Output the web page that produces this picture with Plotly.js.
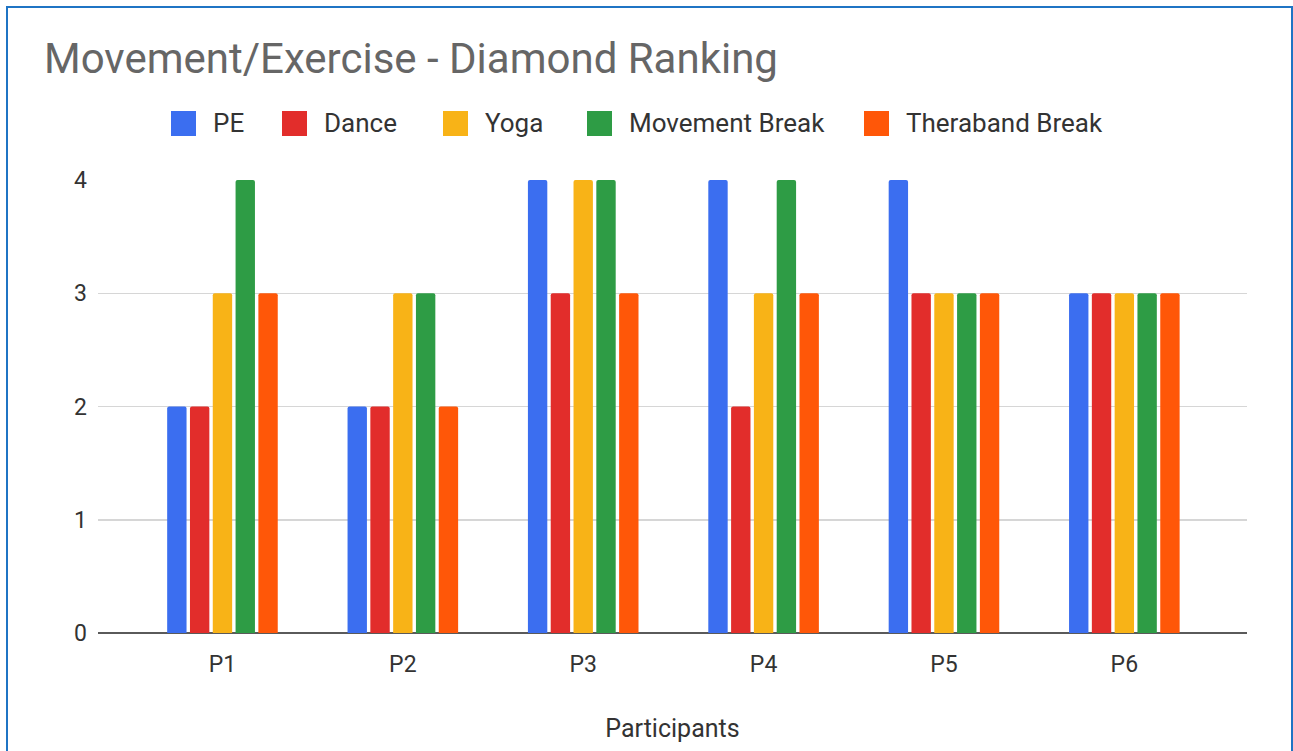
<!DOCTYPE html>
<html>
<head>
<meta charset="utf-8">
<script src="https://cdn.plot.ly/plotly-3.0.1.min.js"></script>
<style>
  html, body { margin: 0; padding: 0; background: #ffffff; }
  #chart { width: 1293px; height: 751px; }
  #frame { position: absolute; left: 6px; top: 6px; width: 1287px; height: 770px;
           border: 2px solid #1f74c4; pointer-events: none; box-sizing: border-box; }
</style>
</head>
<body>
<div id="chart"></div>
<div id="frame"></div>
<script>
const participants = ["P1", "P2", "P3", "P4", "P5", "P6"];
const seriesNames = ["PE", "Dance", "Yoga", "Movement Break", "Theraband Break"];
const pe = [2, 2, 4, 4, 4, 3];
const dance = [2, 2, 3, 2, 3, 3];
const yoga = [3, 3, 4, 3, 3, 3];
const movementBreak = [4, 3, 4, 4, 3, 3];
const therabandBreak = [3, 2, 3, 3, 3, 3];
const yTicks = [0, 1, 2, 3, 4];

const seriesValues = [pe, dance, yoga, movementBreak, therabandBreak];
const colors = ["#3b6ef0", "#e22d2b", "#f8b317", "#2e9c45", "#ff5708"];
const FONT = "Roboto, Arial, sans-serif";

const W = 1293, H = 751;
const margin = {l: 98, r: 46, t: 180, b: 118, pad: 0};
const plotW = W - margin.l - margin.r;
const plotH = H - margin.t - margin.b;

const traces = seriesNames.map((name, i) => ({
  type: "bar",
  name: name,
  x: participants,
  y: seriesValues[i],
  marker: {color: colors[i], cornerradius: 2, line: {width: 0}},
  showlegend: false,
  hoverinfo: "x+y+name"
}));

// custom legend (large square swatches like the original)
const legendSquareLeft = [171, 282, 443, 587, 864];
const legendY = 123.5;
const sq = 25;
const shapes = [];
const annotations = [];
const px2x = p => (p - margin.l) / plotW;
const px2y = p => 1 - (p - margin.t) / plotH;
seriesNames.forEach((name, i) => {
  const x0 = legendSquareLeft[i];
  shapes.push({
    type: "rect", xref: "paper", yref: "paper",
    x0: px2x(x0), x1: px2x(x0 + sq),
    y0: px2y(legendY + sq / 2), y1: px2y(legendY - sq / 2),
    fillcolor: colors[i], line: {width: 0}, layer: "above"
  });
  annotations.push({
    xref: "paper", yref: "paper",
    x: px2x(x0 + 40), y: px2y(legendY),
    xanchor: "left", yanchor: "middle",
    text: name, showarrow: false,
    font: {family: FONT, size: 26, color: "#333333"}
  });
});

const layout = {
  width: W, height: H,
  margin: margin,
  paper_bgcolor: "#ffffff",
  plot_bgcolor: "#ffffff",
  barmode: "group",
  bargap: 0.368,
  bargroupgap: 0.15,
  showlegend: false,
  title: {
    text: "Movement/Exercise - Diamond Ranking",
    x: 44 / W, xanchor: "left", xref: "container",
    y: 1 - 58 / H, yanchor: "middle", yref: "container",
    font: {family: FONT, size: 42, color: "#666666"}
  },
  xaxis: {
    type: "category",
    range: [-0.69, 5.68],
    showgrid: false,
    showline: false,
    zeroline: false,
    ticks: "",
    ticklabelstandoff: 15,
    tickfont: {family: FONT, size: 23, color: "#333333"},
    title: {
      text: "Participants",
      standoff: 42,
      font: {family: FONT, size: 25, color: "#333333"}
    }
  },
  yaxis: {
    range: [0, 4],
    tickvals: yTicks,
    ticktext: yTicks.map(String),
    showgrid: true,
    gridcolor: "#d6d6d6",
    gridwidth: 1.5,
    zeroline: true,
    zerolinecolor: "#5a5a5a",
    zerolinewidth: 2.5,
    showline: false,
    ticks: "",
    ticklabelstandoff: 10,
    tickfont: {family: FONT, size: 23, color: "#333333"}
  },
  shapes: shapes,
  annotations: annotations
};

Plotly.newPlot("chart", traces, layout, {displayModeBar: false, staticPlot: true});
</script>
</body>
</html>
